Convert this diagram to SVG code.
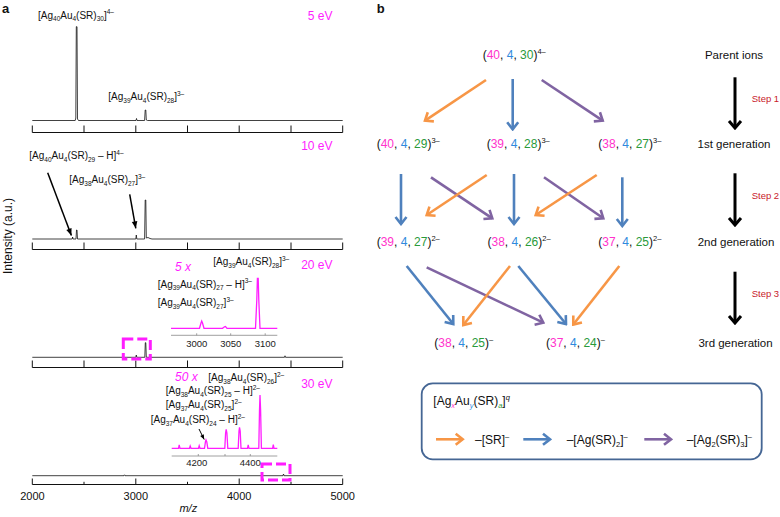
<svg xmlns="http://www.w3.org/2000/svg" width="780" height="517" viewBox="0 0 780 517">
<style>
text{font-family:"Liberation Sans",Arial,sans-serif;fill:#111}
.lbl{font-size:10px}
.s{font-size:6.5px}
.ev{font-size:12px;fill:#ff1dff;text-anchor:end}
.mag{font-size:12px;fill:#ff1dff;font-style:italic}
.tick{font-size:11px;text-anchor:middle}
.itick{font-size:9.5px;text-anchor:middle;fill:#222}
.pl{font-size:13px;font-weight:bold}
.ion{font-size:12px}
.gen{font-size:11.5px;text-anchor:middle}
.sp{font-size:7.5px}
.step{font-size:9.5px;fill:#c8202a}
.m{fill:#ff33cc}
.b{fill:#2f8add}
.g{fill:#2a9a3a}
.ax{stroke:#111;stroke-width:1;fill:none}
.tr{stroke:#111;stroke-width:0.8;fill:none}
.in{stroke:#ff1dff;stroke-width:1.3;fill:none}
.iax{stroke:#888;stroke-width:0.8;fill:none}
.dash{stroke:#ff1dff;stroke-width:3;fill:none;stroke-dasharray:10 4}
.ao{stroke:#f79646;stroke-width:2.6;fill:none;marker-end:url(#mo)}
.ab{stroke:#4f81bd;stroke-width:2.6;fill:none;marker-end:url(#mb)}
.ap{stroke:#8064a2;stroke-width:2.6;fill:none;marker-end:url(#mp)}
.ak{stroke:#000;stroke-width:3;fill:none;marker-end:url(#mk)}
.af{stroke:#000;stroke-width:1.5;fill:none;marker-end:url(#mf)}
</style>
<defs>
<marker id="mo" viewBox="-10 -8 12 16" refX="0" refY="0" markerWidth="12" markerHeight="16" markerUnits="userSpaceOnUse" orient="auto"><path d="M-7,-5.5 L0,0 L-7,5.5" fill="none" stroke="#f79646" stroke-width="2.6"/></marker>
<marker id="mb" viewBox="-10 -8 12 16" refX="0" refY="0" markerWidth="12" markerHeight="16" markerUnits="userSpaceOnUse" orient="auto"><path d="M-7,-5.5 L0,0 L-7,5.5" fill="none" stroke="#4f81bd" stroke-width="2.6"/></marker>
<marker id="mp" viewBox="-10 -8 12 16" refX="0" refY="0" markerWidth="12" markerHeight="16" markerUnits="userSpaceOnUse" orient="auto"><path d="M-7,-5.5 L0,0 L-7,5.5" fill="none" stroke="#8064a2" stroke-width="2.6"/></marker>
<marker id="mk" viewBox="-10 -9 12 18" refX="0" refY="0" markerWidth="12" markerHeight="18" markerUnits="userSpaceOnUse" orient="auto"><path d="M-7,-6 L0,0 L-7,6" fill="none" stroke="#000" stroke-width="3"/></marker>
<marker id="mf" viewBox="-8 -4 9 8" refX="0" refY="0" markerWidth="9" markerHeight="8" markerUnits="userSpaceOnUse" orient="auto"><path d="M0,0 L-7,-2.8 L-7,2.8 Z" fill="#000"/></marker>
<marker id="mf2" viewBox="-6 -3 7 6" refX="0" refY="0" markerWidth="7" markerHeight="6" markerUnits="userSpaceOnUse" orient="auto"><path d="M0,0 L-5,-2 L-5,2 Z" fill="#000"/></marker>
</defs>

<!-- panel a -->
<g id="panel-a">
<text x="2" y="13.3" class="pl">a</text>
<text class="ion" font-size="12" text-anchor="middle" transform="translate(11.5,236) rotate(-90)">Intensity (a.u.)</text>

<g id="spectrum-5eV">
<path class="ax" d="M32.3,132.5 H342.7 M32.3,132.5 V125.5 M84,132.5 V125.5 M135.8,132.5 V125.5 M187.5,132.5 V125.5 M239.2,132.5 V125.5 M291,132.5 V125.5 M342.7,132.5 V125.5"/>
<path class="tr" d="M32.3,120.5 H75.2 L75.8,118 L76.3,26.7 L77,26.7 L77.5,119 L78.5,120.5 H136 L136.5,118.5 L137,120.5 H144.6 L145.2,110 L145.8,110 L146.3,120 L147.5,120.5 H342.7"/>
<text class="ev" x="332.5" y="19.5">5 eV</text>
<text class="lbl" x="38" y="18.5">[Ag<tspan class="s" dy="2.5">40</tspan><tspan dy="-2.5">Au</tspan><tspan class="s" dy="2.5">4</tspan><tspan dy="-2.5">(SR)</tspan><tspan class="s" dy="2.5">30</tspan><tspan dy="-2.5">]</tspan><tspan class="s" dy="-4.5">4–</tspan></text>
<text class="lbl" x="108.3" y="100">[Ag<tspan class="s" dy="2.5">39</tspan><tspan dy="-2.5">Au</tspan><tspan class="s" dy="2.5">4</tspan><tspan dy="-2.5">(SR)</tspan><tspan class="s" dy="2.5">28</tspan><tspan dy="-2.5">]</tspan><tspan class="s" dy="-4.5">3–</tspan></text>
</g>

<g id="spectrum-10eV">
<path class="ax" d="M32.3,249.5 H342.7 M32.3,249.5 V242.5 M84,249.5 V242.5 M135.8,249.5 V242.5 M187.5,249.5 V242.5 M239.2,249.5 V242.5 M291,249.5 V242.5 M342.7,249.5 V242.5"/>
<path class="tr" d="M32.3,239 H72.2 L72.6,237 L73,239 H76 L76.5,230 L77,230 L77.5,239 H135.8 L136.3,235 L136.8,239 H144.6 L145.2,200 L145.8,200 L146.3,238 L148,237.5 L150,238.5 L152,239 H342.7"/>
<text class="ev" x="332.5" y="150">10 eV</text>
<text class="lbl" x="29.3" y="159">[Ag<tspan class="s" dy="2.5">40</tspan><tspan dy="-2.5">Au</tspan><tspan class="s" dy="2.5">4</tspan><tspan dy="-2.5">(SR)</tspan><tspan class="s" dy="2.5">29</tspan><tspan dy="-2.5"> – H]</tspan><tspan class="s" dy="-4.5">4–</tspan></text>
<text class="lbl" x="69.3" y="183.3">[Ag<tspan class="s" dy="2.5">38</tspan><tspan dy="-2.5">Au</tspan><tspan class="s" dy="2.5">4</tspan><tspan dy="-2.5">(SR)</tspan><tspan class="s" dy="2.5">27</tspan><tspan dy="-2.5">]</tspan><tspan class="s" dy="-4.5">3–</tspan></text>
<path class="af" d="M47.7,172.7 L71.4,235.5"/>
<path class="af" d="M129.7,194.3 L135.8,228.3"/>
</g>

<g id="spectrum-20eV">
<path class="ax" d="M32.3,367.5 H342.7 M32.3,367.5 V360.5 M84,367.5 V360.5 M135.8,367.5 V360.5 M187.5,367.5 V360.5 M239.2,367.5 V360.5 M291,367.5 V360.5 M342.7,367.5 V360.5"/>
<path class="tr" d="M32.3,357.3 H135.8 L136.3,355 L136.8,357.3 H144.8 L145.3,342.7 L145.8,342.7 L146.3,357.3 H284.5 L285,355.8 L285.5,357.3 H342.7"/>
<rect class="dash" x="123.3" y="339" width="27" height="20"/>
<path class="in" d="M171,328.3 H199.5 L201,323 L201.7,321 L202.5,323 L204,328.3 H222.5 L224.5,326.8 L225.5,326.5 L227,328.3 H255.5 L256.8,300 L257.4,278.3 L258.2,278.3 L258.8,300 L260,328.3 H277.3"/>
<path class="iax" d="M171,335.3 H277.3 M196.7,335.3 V333.3 M230.7,335.3 V333.3 M265.2,335.3 V333.3"/>
<text class="itick" x="196.7" y="346.7">3000</text>
<text class="itick" x="230.7" y="346.7">3050</text>
<text class="itick" x="265.2" y="346.7">3100</text>
<text class="ev" x="332.5" y="269">20 eV</text>
<text class="mag" x="175" y="270.7">5 x</text>
<text class="lbl" x="213.3" y="265">[Ag<tspan class="s" dy="2.5">39</tspan><tspan dy="-2.5">Au</tspan><tspan class="s" dy="2.5">4</tspan><tspan dy="-2.5">(SR)</tspan><tspan class="s" dy="2.5">28</tspan><tspan dy="-2.5">]</tspan><tspan class="s" dy="-4.5">3–</tspan></text>
<text class="lbl" x="157.7" y="287.5">[Ag<tspan class="s" dy="2.5">39</tspan><tspan dy="-2.5">Au</tspan><tspan class="s" dy="2.5">4</tspan><tspan dy="-2.5">(SR)</tspan><tspan class="s" dy="2.5">27</tspan><tspan dy="-2.5"> – H]</tspan><tspan class="s" dy="-4.5">3–</tspan></text>
<text class="lbl" x="157.7" y="306">[Ag<tspan class="s" dy="2.5">39</tspan><tspan dy="-2.5">Au</tspan><tspan class="s" dy="2.5">4</tspan><tspan dy="-2.5">(SR)</tspan><tspan class="s" dy="2.5">27</tspan><tspan dy="-2.5">]</tspan><tspan class="s" dy="-4.5">3–</tspan></text>
</g>

<g id="spectrum-30eV">
<path class="ax" d="M32.3,484.5 H342.7 M32.3,484.5 V478.5 M84,484.5 V481.8 M135.8,484.5 V478.5 M187.5,484.5 V481.8 M239.2,484.5 V478.5 M291,484.5 V481.8 M342.7,484.5 V478.5"/>
<path class="tr" d="M32.3,475.7 H124 L124.5,474.8 L125,475.7 H283 L283.5,474 L284,475.7 H342.7"/>
<rect class="dash" x="262" y="464" width="28" height="16"/>
<path class="in" d="M171.7,448.3 H178.5 L179.2,445 L180,448.3 H189.5 L190.2,446 L191,448.3 H198.5 L199.2,445.8 L200,448.3 H204.5 L205.5,441.5 L206,440 L206.8,442 L207.8,448.3 H224.8 L225.6,433 L226.2,429.3 L226.9,433 L227.8,448.3 H238.2 L239,431 L239.5,427.3 L240.2,431 L241,448.3 H247.5 L248.2,445 L249,448.3 H258.8 L259.5,410 L260,395 L260.6,410 L261.4,448.3 H272.6 L273.3,444.5 L274,448.3 H277.3"/>
<path class="iax" d="M171.7,456 H277.3 M198.3,456 V454 M225,456 V454 M250.3,456 V454"/>
<text class="itick" x="196.7" y="465.5">4200</text>
<text class="itick" x="250.3" y="465.5">4400</text>
<text class="ev" x="332.5" y="388">30 eV</text>
<text class="mag" x="175" y="381">50 x</text>
<text class="lbl" x="208.3" y="381">[Ag<tspan class="s" dy="2.5">38</tspan><tspan dy="-2.5">Au</tspan><tspan class="s" dy="2.5">4</tspan><tspan dy="-2.5">(SR)</tspan><tspan class="s" dy="2.5">26</tspan><tspan dy="-2.5">]</tspan><tspan class="s" dy="-4.5">2–</tspan></text>
<text class="lbl" x="165.7" y="394">[Ag<tspan class="s" dy="2.5">38</tspan><tspan dy="-2.5">Au</tspan><tspan class="s" dy="2.5">4</tspan><tspan dy="-2.5">(SR)</tspan><tspan class="s" dy="2.5">25</tspan><tspan dy="-2.5"> – H]</tspan><tspan class="s" dy="-4.5">2–</tspan></text>
<text class="lbl" x="165.7" y="408.3">[Ag<tspan class="s" dy="2.5">37</tspan><tspan dy="-2.5">Au</tspan><tspan class="s" dy="2.5">4</tspan><tspan dy="-2.5">(SR)</tspan><tspan class="s" dy="2.5">25</tspan><tspan dy="-2.5">]</tspan><tspan class="s" dy="-4.5">2–</tspan></text>
<text class="lbl" x="150.7" y="423.3">[Ag<tspan class="s" dy="2.5">37</tspan><tspan dy="-2.5">Au</tspan><tspan class="s" dy="2.5">4</tspan><tspan dy="-2.5">(SR)</tspan><tspan class="s" dy="2.5">24</tspan><tspan dy="-2.5"> – H]</tspan><tspan class="s" dy="-4.5">2–</tspan></text>
<path d="M199,429 L204.2,439.5" stroke="#000" stroke-width="1" fill="none" marker-end="url(#mf2)"/>
</g>

<text class="tick" x="32.5" y="500">2000</text>
<text class="tick" x="135.8" y="500">3000</text>
<text class="tick" x="239.2" y="500">4000</text>
<text class="tick" x="342.7" y="500">5000</text>
<text class="tick" x="188.3" y="512" font-style="italic">m/z</text>
</g>

<!-- panel b -->
<text x="376.7" y="13.3" class="pl">b</text>

<g id="node-parent"><text class="ion" x="482.7" y="59.3">(<tspan class="m">40</tspan>, <tspan class="b">4</tspan>, <tspan class="g">30</tspan>)<tspan class="sp" dy="-5">4–</tspan></text></g>
<g id="node-40-4-29"><text class="ion" x="376.7" y="148.3">(<tspan class="m">40</tspan>, <tspan class="b">4</tspan>, <tspan class="g">29</tspan>)<tspan class="sp" dy="-5">3–</tspan></text></g>
<g id="node-39-4-28"><text class="ion" x="486.7" y="148.3">(<tspan class="m">39</tspan>, <tspan class="b">4</tspan>, <tspan class="g">28</tspan>)<tspan class="sp" dy="-5">3–</tspan></text></g>
<g id="node-38-4-27"><text class="ion" x="598.3" y="148.3">(<tspan class="m">38</tspan>, <tspan class="b">4</tspan>, <tspan class="g">27</tspan>)<tspan class="sp" dy="-5">3–</tspan></text></g>
<g id="node-39-4-27"><text class="ion" x="376.7" y="246">(<tspan class="m">39</tspan>, <tspan class="b">4</tspan>, <tspan class="g">27</tspan>)<tspan class="sp" dy="-5">2–</tspan></text></g>
<g id="node-38-4-26"><text class="ion" x="487.5" y="246">(<tspan class="m">38</tspan>, <tspan class="b">4</tspan>, <tspan class="g">26</tspan>)<tspan class="sp" dy="-5">2–</tspan></text></g>
<g id="node-37-4-25"><text class="ion" x="598.3" y="246">(<tspan class="m">37</tspan>, <tspan class="b">4</tspan>, <tspan class="g">25</tspan>)<tspan class="sp" dy="-5">2–</tspan></text></g>
<g id="node-38-4-25"><text class="ion" x="434.3" y="346.7">(<tspan class="m">38</tspan>, <tspan class="b">4</tspan>, <tspan class="g">25</tspan>)<tspan class="sp" dy="-5">–</tspan></text></g>
<g id="node-37-4-24"><text class="ion" x="546" y="346.7">(<tspan class="m">37</tspan>, <tspan class="b">4</tspan>, <tspan class="g">24</tspan>)<tspan class="sp" dy="-5">–</tspan></text></g>

<g id="gen-labels">
<text class="gen" x="734" y="59.3">Parent ions</text>
<text class="gen" x="734" y="148.3">1st generation</text>
<text class="gen" x="736" y="246">2nd generation</text>
<text class="gen" x="735.5" y="346.7">3rd generation</text>
<text class="step" x="751.7" y="101.7">Step 1</text>
<text class="step" x="751.7" y="199.3">Step 2</text>
<text class="step" x="751.7" y="297.3">Step 3</text>
</g>

<g id="connectors">
<path class="ak" d="M735,77.3 V128"/>
<path class="ak" d="M735,173.3 V225"/>
<path class="ak" d="M735,271.7 V323"/>

<path class="ao" d="M486,80 L425,120.7"/>
<path class="ab" d="M512.7,79 V129.3"/>
<path class="ap" d="M541.7,80 L602.7,120.7"/>

<path class="ab" d="M401,174 V224"/>
<path class="ap" d="M431,177.3 L492.3,218.3"/>
<path class="ao" d="M486.7,175 L426.7,215"/>
<path class="ab" d="M514,174 V224"/>
<path class="ap" d="M544,177.3 L603.3,218.3"/>
<path class="ao" d="M596.7,175 L535.7,215"/>
<path class="ab" d="M622.3,177.3 V226"/>

<path class="ab" d="M406.7,266 L453.3,324"/>
<path class="ap" d="M426.7,267.3 L543.3,322.7"/>
<path class="ao" d="M510,266 L463.3,325"/>
<path class="ab" d="M518.3,266 L566,324"/>
<path class="ao" d="M619.3,266 L573.3,324.5"/>
</g>

<g id="legend">
<rect x="421.7" y="383.3" width="340" height="76" rx="11" fill="none" stroke="#456694" stroke-width="1.8"/>
<text class="ion" x="433.3" y="405">[Ag<tspan class="sp m" font-style="italic" dy="3">x</tspan><tspan dy="-3">Au</tspan><tspan class="sp b" font-style="italic" dy="3">y</tspan><tspan dy="-3">(SR)</tspan><tspan class="sp g" font-style="italic" dy="3">a</tspan><tspan dy="-3">]</tspan><tspan class="sp" font-style="italic" dy="-5">q</tspan></text>
<path class="ao" d="M436,439.3 H462.7"/>
<text class="ion" x="475" y="443.5">–[SR]<tspan class="sp" dy="-5">–</tspan></text>
<path class="ab" d="M523.3,439.3 H550"/>
<text class="ion" x="566.7" y="443.5">–[Ag(SR)<tspan class="sp" dy="3">2</tspan><tspan dy="-3">]</tspan><tspan class="sp" dy="-5">–</tspan></text>
<path class="ap" d="M644.3,439.3 H671"/>
<text class="ion" x="686.7" y="443.5">–[Ag<tspan class="sp" dy="3">2</tspan><tspan dy="-3">(SR)</tspan><tspan class="sp" dy="3">3</tspan><tspan dy="-3">]</tspan><tspan class="sp" dy="-5">–</tspan></text>
</g>
</svg>
